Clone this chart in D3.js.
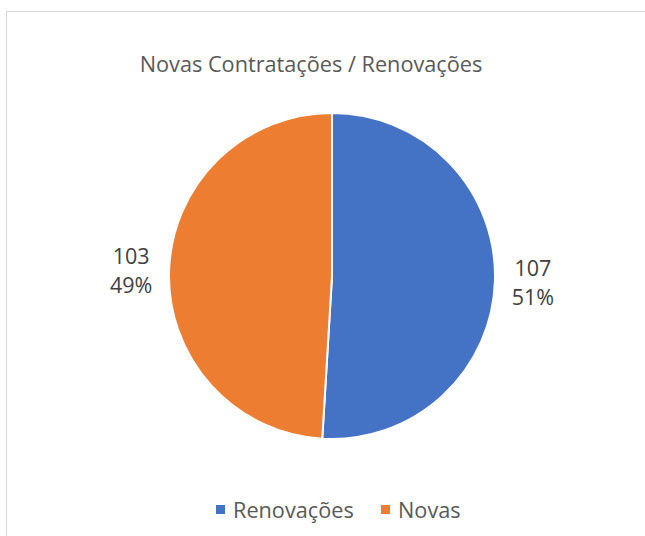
<!DOCTYPE html>
<html>
<head>
<meta charset="utf-8">
<script src="https://cdn.jsdelivr.net/npm/d3@7"></script>
<style>
  body { margin: 0; background: #fff; }
  svg { display: block; font-family: "Open Sans", sans-serif; }
</style>
</head>
<body>
<svg width="645" height="536"></svg>
<script>
// data
let categories = ["Renovações", "Novas"];
let values = [107, 103];
let colors = ["#4472c4", "#ed7d31"];
let title = "Novas Contratações / Renovações";

let svg = d3.select("svg");

// chart frame
svg.append("rect")
  .attr("x", 6.5).attr("y", 11.5)
  .attr("width", 700).attr("height", 600)
  .attr("fill", "#fff")
  .attr("stroke", "#d9d9d9");

svg.append("text")
  .attr("x", 311).attr("y", 72)
  .attr("text-anchor", "middle")
  .attr("font-size", 21.7)
  .attr("fill", "#595959")
  .text(title);

let cx = 332, cy = 276, r = 163;
let total = d3.sum(values);

let pie = d3.pie().sort(null).value(d => d);
let arcs = pie(values);
let arc = d3.arc().innerRadius(0).outerRadius(r);
let labelArc = d3.arc().innerRadius(r + 38).outerRadius(r + 38);

let g = svg.append("g").attr("transform", `translate(${cx},${cy})`);

g.selectAll("path")
  .data(arcs)
  .enter()
  .append("path")
    .attr("d", arc)
    .attr("fill", (d, i) => colors[i])
    .attr("stroke", "#fff")
    .attr("stroke-width", 2);

let labels = g.selectAll("text.lbl")
  .data(arcs)
  .enter()
  .append("text")
    .attr("class", "lbl")
    .attr("text-anchor", "middle")
    .attr("font-size", 21.5)
    .attr("fill", "#404040")
    .attr("transform", d => `translate(${labelArc.centroid(d)})`);

labels.append("tspan")
  .attr("x", 0).attr("dy", "-0.3em")
  .text(d => d.data);
labels.append("tspan")
  .attr("x", 0).attr("dy", "1.35em")
  .text(d => Math.round(d.data / total * 100) + "%");

// legend
let legendX = [216, 381];
let legend = svg.selectAll("g.leg")
  .data(categories)
  .enter()
  .append("g")
    .attr("class", "leg")
    .attr("transform", (d, i) => `translate(${legendX[i]},505)`);

legend.append("rect")
  .attr("width", 9).attr("height", 9)
  .attr("fill", (d, i) => colors[i]);

legend.append("text")
  .attr("x", 17).attr("y", 13)
  .attr("font-size", 21.7)
  .attr("fill", "#595959")
  .text(d => d);
</script>
</body>
</html>
